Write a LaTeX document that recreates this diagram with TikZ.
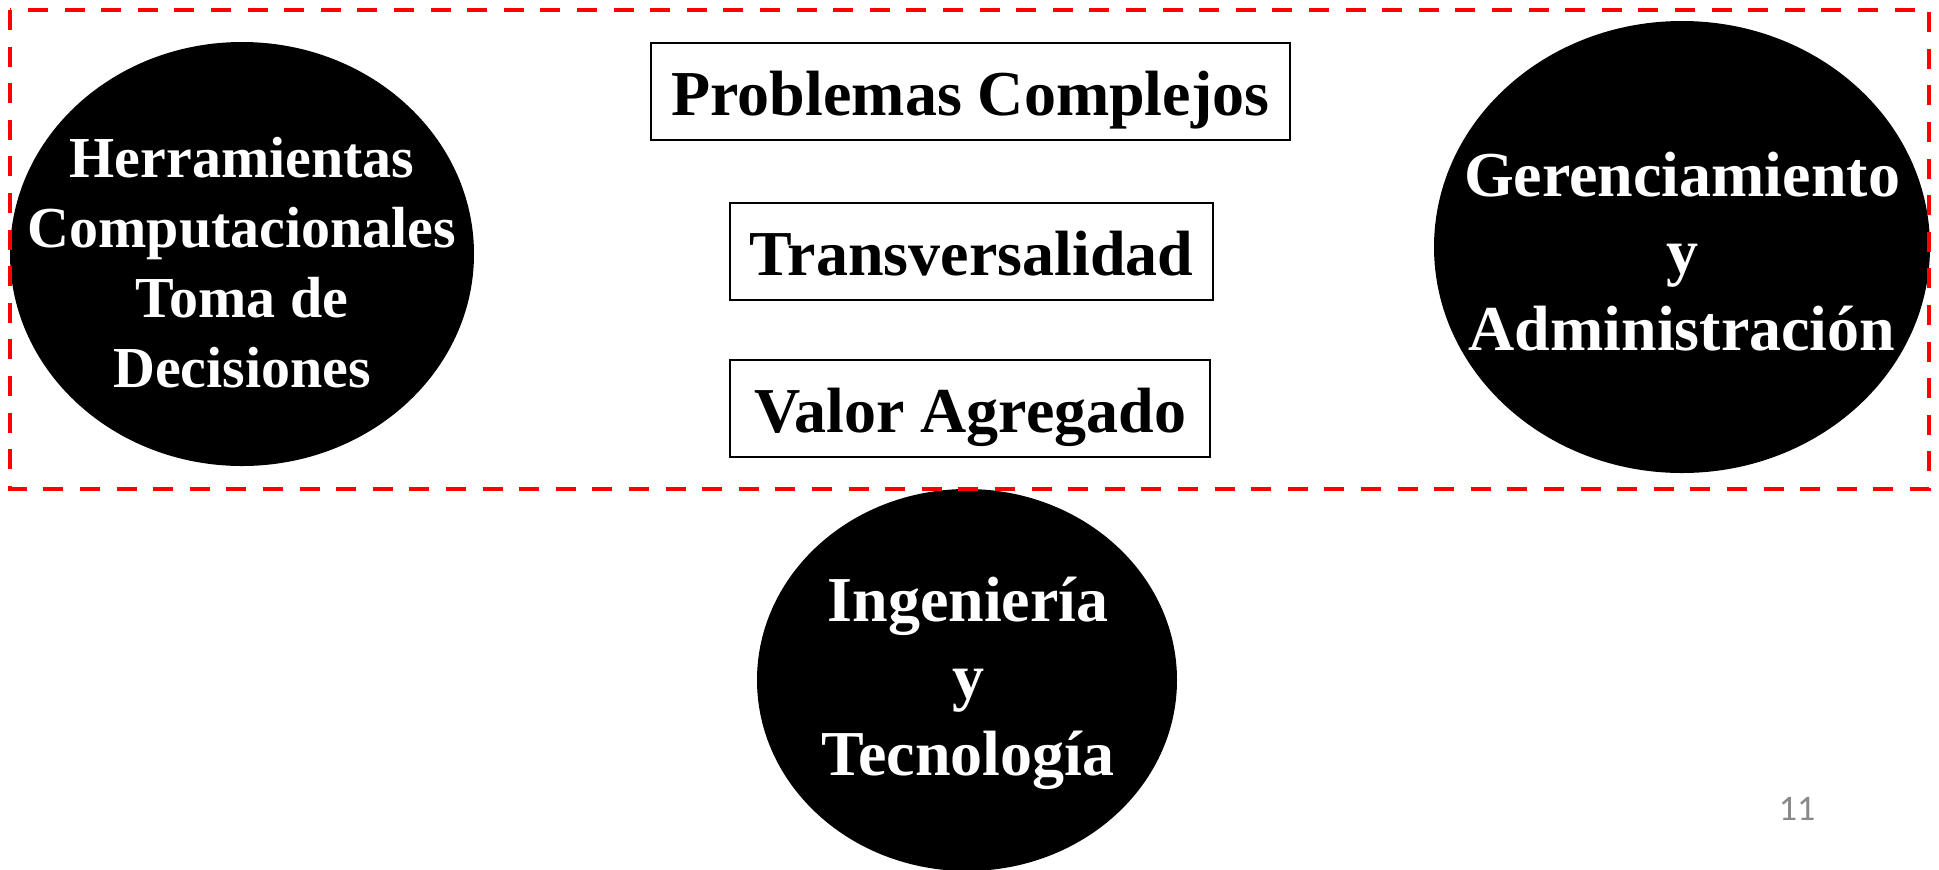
\documentclass[tikz,border=0pt]{standalone}
\usepackage{fontspec}
\setmainfont{Liberation Serif}
\newfontfamily\numfont{Carlito}
\usetikzlibrary{shapes}
\definecolor{numgray}{HTML}{898989}
\tikzstyle{blob}=[ellipse,fill=black,inner sep=0pt]
\tikzstyle{blobtext}=[text=white,align=center,inner sep=0pt,font=\bfseries\fontsize{32}{38.5}\selectfont]
\tikzstyle{topic}=[draw,line width=1pt,inner sep=0pt,text height=23.5pt,text depth=0pt,font=\bfseries\fontsize{32}{38.5}\selectfont]
\tikzstyle{frame}=[draw=red,line width=2.25pt,dash pattern=on 10pt off 8.3pt]

\begin{document}
\begin{tikzpicture}[x=0.5pt,y=-0.5pt]
\useasboundingbox (0,0) rectangle (1939,869);
% the three black circles
\node [blob,minimum width=232pt,minimum height=212pt] (tools) at (242,254) {};
\node [blob,minimum width=248pt,minimum height=226pt] (mgmt) at (1682,247) {};
\node [blob,minimum width=210pt,minimum height=191pt] (eng) at (967,680) {};
\node [blobtext,font=\bfseries\fontsize{29}{35}\selectfont] (toolstext) at (242,263) {Herramientas\\Computacionales\\Toma de\\Decisiones};
\node [blobtext] (mgmttext) at (1682,251.5) {Gerenciamiento\\y\\Administración};
\node [blobtext] (engtext) at (968,683) {Ingeniería\\y\\Tecnología};
% boxes in the middle
\node [topic,minimum width=319.5pt,minimum height=48.5pt] (complex) at (970.5,91.5) {Problemas Complejos};
\node [topic,minimum width=241.5pt,minimum height=48.5pt] (transv) at (971.5,251.5) {Transversalidad};
\node [topic,minimum width=240pt,minimum height=48.5pt] (value) at (970,408.5) {Valor Agregado};
% dashed frame round the top row
\draw [frame] (10,10) rectangle (1929,489);
\node [text=numgray,font=\numfont\fontsize{18}{20}\selectfont,inner sep=0pt] (pagenum) at (1797,808.5) {11};
\end{tikzpicture}
\end{document}
